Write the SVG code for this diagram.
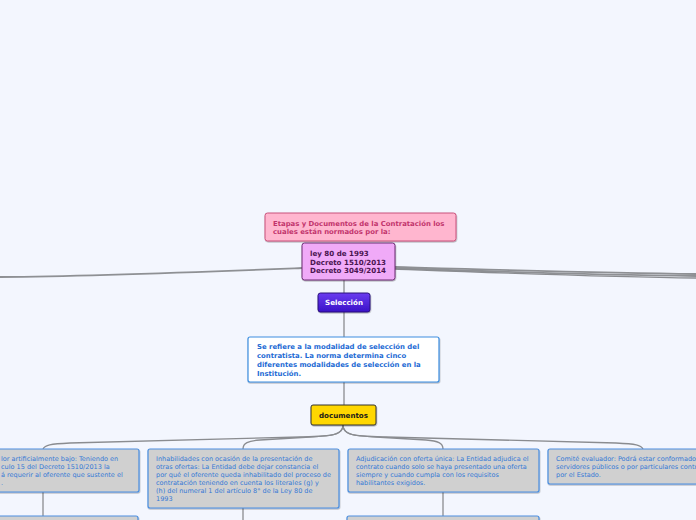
<svg xmlns="http://www.w3.org/2000/svg" width="696" height="520" viewBox="0 0 696 520">
<defs>
<linearGradient id="gSel" x1="0" y1="0" x2="0" y2="1">
<stop offset="0" stop-color="#6a3cf0"/>
<stop offset="1" stop-color="#3a12c8"/>
</linearGradient>
<filter id="sh" x="-10%" y="-10%" width="120%" height="130%">
<feDropShadow dx="0.5" dy="1" stdDeviation="0.6" flood-color="#000" flood-opacity="0.3"/>
</filter>
</defs>
<style>
text{font-family:"DejaVu Sans","Liberation Sans",sans-serif}
.b{font-weight:bold}
.leaf{fill:#d0d0d0;stroke:#4a8ee0;stroke-width:1.2;filter:url(#sh)}
.lt{font-size:6.5px;fill:#3479d6}
.con{fill:none;stroke:#8a8c90;stroke-width:1.3}
.thick{fill:none;stroke:#8e9094;stroke-width:1.8}
</style>
<rect width="696" height="520" fill="#f3f6fe"/>
<g id="connectors">
<path class="thick" d="M302,268 C200,272 100,276 0,277"/>
<path class="thick" d="M395,267 C500,270 600,273 696,274"/>
<path class="thick" d="M395,268 C500,272 600,275 696,276"/>
<path class="con" d="M395,269 C500,273 600,277 696,278"/>
<path class="con" d="M344,280 V293"/>
<path class="con" d="M344,312 V337"/>
<path class="con" d="M344,382 V405"/>
<path class="con" d="M343,425 C343,436 330,436 300,437 L70,443 C50,444 45,445 43,449"/>
<path class="con" d="M343,425 C343,434 335,436 310,437 L260,440 C248,441 243,443 243,449"/>
<path class="con" d="M343,425 C343,434 351,436 376,437 L426,440 C438,441 443,443 443,449"/>
<path class="con" d="M343,425 C343,436 356,436 386,437 L616,443 C636,444 641,445 643,449"/>
<path class="con" d="M43,492 V516"/>
<path class="con" d="M243,508 V520"/>
<path class="con" d="M443,492 V516"/>
</g>
<g id="title">
<rect x="265" y="213" width="191" height="28" rx="2.5" fill="#ffb6cf" stroke="#c8507a" stroke-width="1" filter="url(#sh)"/>
<text class="b" font-size="6.9" fill="#c2346c" x="273" y="226">Etapas y Documentos de la Contratación los</text>
<text class="b" font-size="6.9" fill="#c2346c" x="273" y="234">cuales están normados por la:</text>
</g>
<g id="leyes">
<rect x="302" y="243" width="93" height="37" rx="2.5" fill="#f0aaf8" stroke="#6a2a70" stroke-width="1" filter="url(#sh)"/>
<text class="b" font-size="7.1" fill="#4a1450" x="310" y="256">ley 80 de 1993</text>
<text class="b" font-size="7.1" fill="#4a1450" x="310" y="264.5">Decreto 1510/2013</text>
<text class="b" font-size="7.1" fill="#4a1450" x="310" y="273">Decreto 3049/2014</text>
</g>
<g id="seleccion">
<rect x="318" y="293" width="52" height="19" rx="2.5" fill="url(#gSel)" stroke="#28107a" stroke-width="1" filter="url(#sh)"/>
<text class="b" font-size="7.1" fill="#ffffff" x="344" y="305" text-anchor="middle">Selección</text>
</g>
<g id="descripcion">
<rect x="248" y="337" width="191" height="45" rx="2" fill="#ffffff" stroke="#3c8ee0" stroke-width="1.2" filter="url(#sh)"/>
<text class="b" font-size="6.9" fill="#1c6ad4" x="257" y="349">Se refiere a la modalidad de selección del</text>
<text class="b" font-size="6.9" fill="#1c6ad4" x="257" y="358">contratista. La norma determina cinco</text>
<text class="b" font-size="6.9" fill="#1c6ad4" x="257" y="367">diferentes modalidades de selección en la</text>
<text class="b" font-size="6.9" fill="#1c6ad4" x="257" y="376">Institución.</text>
</g>
<g id="documentos">
<rect x="311" y="405" width="65" height="20" rx="2" fill="#ffd700" stroke="#333333" stroke-width="1" filter="url(#sh)"/>
<text class="b" font-size="7.1" fill="#1a1a1a" x="343.5" y="417.5" text-anchor="middle">documentos</text>
</g>
<g id="precio">
<rect class="leaf" x="-60" y="449" width="199" height="43" rx="2"/>
<text class="lt" x="1" y="461">lor artificialmente bajo: Teniendo en</text>
<text class="lt" x="1" y="469">culo 15 del Decreto 1510/2013 la</text>
<text class="lt" x="1" y="477">á requerir al oferente que sustente el</text>
<text class="lt" x="1" y="485">.</text>
</g>
<g id="inhabilidades">
<rect class="leaf" x="148" y="449" width="191" height="59" rx="2"/>
<text class="lt" x="156" y="461">Inhabilidades con ocasión de la presentación de</text>
<text class="lt" x="156" y="469">otras ofertas: La Entidad debe dejar constancia el</text>
<text class="lt" x="156" y="477">por qué el oferente queda inhabilitado del proceso de</text>
<text class="lt" x="156" y="485">contratación teniendo en cuenta los literales (g) y</text>
<text class="lt" x="156" y="493">(h) del numeral 1 del artículo 8° de la Ley 80 de</text>
<text class="lt" x="156" y="501">1993</text>
</g>
<g id="oferta-unica">
<rect class="leaf" x="348" y="449" width="191" height="43" rx="2"/>
<text class="lt" x="356" y="461">Adjudicación con oferta única: La Entidad adjudica el</text>
<text class="lt" x="356" y="469">contrato cuando solo se haya presentado una oferta</text>
<text class="lt" x="356" y="477">siempre y cuando cumpla con los requisitos</text>
<text class="lt" x="356" y="485">habilitantes exigidos.</text>
</g>
<g id="comite">
<rect class="leaf" x="548" y="449" width="191" height="35" rx="2"/>
<text class="lt" x="556" y="461">Comité evaluador: Podrá estar conformado por</text>
<text class="lt" x="556" y="469">servidores públicos o por particulares contratados</text>
<text class="lt" x="556" y="477">por el Estado.</text>
</g>
<g id="hijo-precio">
<rect class="leaf" x="-60" y="516" width="198" height="20" rx="2"/>
</g>
<g id="hijo-oferta">
<rect class="leaf" x="347" y="516" width="192" height="20" rx="2"/>
</g>
</svg>
